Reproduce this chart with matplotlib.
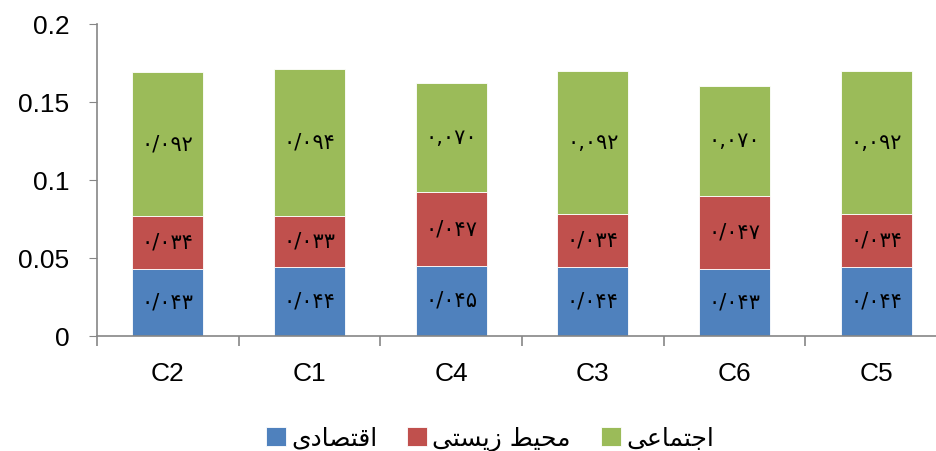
import matplotlib
matplotlib.use("Agg")
import matplotlib.pyplot as plt
from matplotlib.ticker import FixedLocator

categories = ["C2", "C1", "C4", "C3", "C6", "C5"]
economic = [0.043, 0.044, 0.045, 0.044, 0.043, 0.044]
environmental = [0.034, 0.033, 0.047, 0.034, 0.047, 0.034]
social = [0.092, 0.094, 0.070, 0.092, 0.070, 0.092]
# decimal mark used in each social label
social_sep = ["/", "/", ",", ",", ",", ","]

# legend names, written in visual order with Arabic presentation forms
series_names = [
    "\ufeef\ufea9\ufe8e\ufebc\ufe98\ufed7\ufe8d",  # اقتصادی
    "\ufef0\ufe98\ufeb4\ufef3\ufeaf \ufec2\ufef4\ufea4\ufee3",  # محیط زیستی
    "\ufef0\ufecb\ufe8e\ufee4\ufe98\ufe9f\ufe8d",  # اجتماعی
]
colors = ["#4F81BD", "#C0504D", "#9BBB59"]

PERSIAN = str.maketrans("0123456789", "\u06f0\u06f1\u06f2\u06f3\u06f4\u06f5\u06f6\u06f7\u06f8\u06f9")


def fa_label(value, sep="/"):
    return f"{value:.3f}".replace(".", sep).translate(PERSIAN)


fig = plt.figure(figsize=(9.37, 4.51), dpi=100)
ax = fig.add_axes([97 / 937, 115 / 451, 850 / 937, 312 / 451])

x = list(range(len(categories)))
bottom = [0.0] * len(categories)
stacks = [(economic, None), (environmental, None), (social, social_sep)]
for (vals, seps), color, name in zip(stacks, colors, series_names):
    bars = ax.bar(x, vals, width=0.5, bottom=bottom, color=color, edgecolor="white",
                  linewidth=0.6, label=name)
    for i, (b, v) in enumerate(zip(bars, vals)):
        sep = seps[i] if seps else "/"
        ax.text(b.get_x() + b.get_width() / 2, bottom[i] + v / 2, fa_label(v, sep),
                ha="center", va="center", fontsize=15, family=["DejaVu Sans"])
    bottom = [bt + v for bt, v in zip(bottom, vals)]

ax.set_xlim(-0.5, len(categories) - 0.5)
ax.set_ylim(0, 0.2)
ax.set_yticks([0, 0.05, 0.1, 0.15, 0.2])
ax.set_yticklabels(["0", "0.05", "0.1", "0.15", "0.2"])
ax.set_xticks(x)
ax.set_xticklabels(categories)
ax.xaxis.set_minor_locator(FixedLocator([i + 0.5 for i in range(-1, len(categories))]))

for side in ("top", "right"):
    ax.spines[side].set_visible(False)
for side in ("left", "bottom"):
    ax.spines[side].set_color("#868686")
    ax.spines[side].set_linewidth(1.2)

ax.tick_params(axis="y", which="major", length=6, color="#868686", labelsize=19, pad=14)
ax.tick_params(axis="x", which="major", length=0, labelsize=19, pad=19)
ax.tick_params(axis="x", which="minor", length=7, color="#868686", width=1.2)
for lab in ax.get_xticklabels() + ax.get_yticklabels():
    lab.set_fontfamily("Liberation Sans")

leg = ax.legend(loc="center", bbox_to_anchor=(490 / 937, 12 / 451),
                bbox_transform=fig.transFigure, ncol=3, frameon=False,
                handlelength=0.8, handleheight=0.8, handletextpad=0.2, columnspacing=1.2,
                prop={"family": "DejaVu Sans", "size": 18})

fig.savefig("out.png", dpi=100)
